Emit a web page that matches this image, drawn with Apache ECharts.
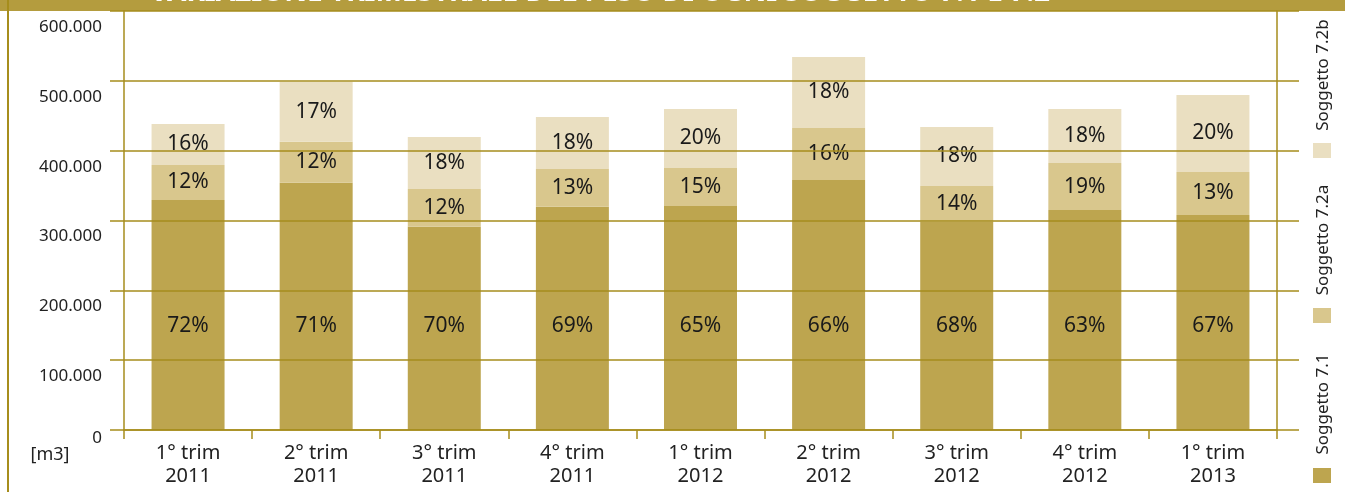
<!DOCTYPE html>
<html>
<head>
<meta charset="utf-8">
<script src="https://cdn.jsdelivr.net/npm/echarts@6/dist/echarts.min.js"></script>
<style>
  html, body { margin: 0; padding: 0; background: #ffffff; }
  #chart { width: 1345px; height: 492px; }
</style>
</head>
<body>
<div id="chart"></div>
<script>
const titleText = 'VARIAZIONE TRIMESTRALE DEL PESO DI OGNI SOGGETTO 7.1 E 7.2';
const unitLabel = '[m3]';
const categories = ['1° trim\n2011', '2° trim\n2011', '3° trim\n2011', '4° trim\n2011', '1° trim\n2012', '2° trim\n2012', '3° trim\n2012', '4° trim\n2012', '1° trim\n2013'];
const seriesNames = ['Soggetto 7.1', 'Soggetto 7.2a', 'Soggetto 7.2b'];
const values71 = [329400, 354100, 291100, 319800, 320800, 358000, 298300, 315000, 307900];
const values72a = [50100, 58800, 54000, 54000, 54400, 74500, 51100, 67300, 61600];
const values72b = [58700, 85900, 74500, 74400, 84500, 101600, 84500, 77400, 110200];
const pct71 = [72, 71, 70, 69, 65, 66, 68, 63, 67];
const pct72a = [12, 12, 12, 13, 15, 16, 14, 19, 13];
const pct72b = [16, 17, 18, 18, 20, 18, 18, 18, 20];
const yMin = 0, yMax = 600000, yInterval = 100000;

const colors = ['#bda54f', '#d9c78d', '#eadfc1'];
const lineColor = '#a68d1c';
const font = '"Noto Sans", "Open Sans", sans-serif';

function fmtNum(v) {
  return String(v).replace(/\B(?=(\d{3})+(?!\d))/g, '.');
}

const chart = echarts.init(document.getElementById('chart'), null, { renderer: 'canvas' });

const allValues = [values71, values72a, values72b];
const allPct = [pct71, pct72a, pct72b];

const series = seriesNames.map((name, i) => {
  const label = {
    show: true,
    position: 'inside',
    fontFamily: font,
    fontSize: 21,
    color: '#1a1a1a',
    formatter: p => allPct[i][p.dataIndex] + '%'
  };
  if (i === 0) {
    label.position = 'insideBottom';
    label.distance = 93;
  }
  return {
    name: name,
    type: 'bar',
    stack: 'total',
    barWidth: 73,
    data: allValues[i],
    itemStyle: { color: colors[i] },
    label: label
  };
});

// legend drawn as rotated text (vertical), names from seriesNames
const legendPos = [
  { textY: 404, rectY: 468 },
  { textY: 240, rectY: 308 },
  { textY: 75, rectY: 143 }
];
const legendGraphics = [];
seriesNames.forEach((name, i) => {
  legendGraphics.push({
    type: 'rect',
    shape: { x: 1313, y: legendPos[i].rectY, width: 18, height: 15 },
    style: { fill: colors[i] }
  });
  legendGraphics.push({
    type: 'text',
    x: 1323,
    y: legendPos[i].textY,
    rotation: Math.PI / 2,
    style: {
      text: name,
      fontFamily: font,
      fontSize: 17,
      fill: '#222',
      textAlign: 'center',
      textVerticalAlign: 'middle'
    }
  });
});

const option = {
  animation: false,
  backgroundColor: '#ffffff',
  grid: { left: 124, right: 68, top: 11, bottom: 62, containLabel: false, outerBoundsMode: 'none' },
  xAxis: {
    type: 'category',
    data: categories,
    z: 3,
    axisLine: { show: true, lineStyle: { color: lineColor, width: 1.5 } },
    axisTick: { show: true, length: 9, lineStyle: { color: lineColor, width: 1.5 } },
    axisLabel: {
      fontFamily: font,
      fontSize: 20,
      color: '#222',
      lineHeight: 23,
      margin: 12
    }
  },
  yAxis: [
    {
      type: 'value',
      min: yMin, max: yMax, interval: yInterval,
      position: 'left',
      z: 3,
      axisLine: { show: true, lineStyle: { color: lineColor, width: 1.5 } },
      axisTick: { show: true, length: 14, lineStyle: { color: lineColor, width: 1.5 } },
      splitLine: { show: true, lineStyle: { color: lineColor, width: 1.5 } },
      axisLabel: {
        fontFamily: font,
        fontSize: 17,
        color: '#222',
        margin: 22,
        lineHeight: 16,
        formatter: v => (v === 0 ? '\n0' : '\n\n' + fmtNum(v))
      }
    },
    {
      type: 'value',
      min: yMin, max: yMax, interval: yInterval,
      position: 'right',
      z: 3,
      axisLine: { show: true, lineStyle: { color: lineColor, width: 1.5 } },
      axisTick: { show: true, length: 22, lineStyle: { color: lineColor, width: 1.5 } },
      splitLine: { show: false },
      axisLabel: { show: false }
    }
  ],
  series: series,
  graphic: [
    {
      type: 'rect',
      z: -1,
      shape: { x: 0, y: 0, width: 1345, height: 11 },
      style: { fill: '#b49c3e' }
    },
    {
      type: 'text',
      x: 600,
      y: 7,
      style: {
        text: titleText,
        fontFamily: font,
        fontWeight: 'bold',
        fontSize: 28,
        fill: '#ffffff',
        textAlign: 'center',
        textVerticalAlign: 'bottom'
      }
    },
    {
      type: 'rect',
      shape: { x: 7, y: 0, width: 2, height: 492 },
      style: { fill: '#a68d1c' }
    },
    {
      type: 'text',
      x: 50,
      y: 455,
      style: {
        text: unitLabel,
        fontFamily: font,
        fontSize: 18,
        fill: '#222',
        textAlign: 'center',
        textVerticalAlign: 'middle'
      }
    }
  ].concat(legendGraphics)
};

chart.setOption(option);
</script>
</body>
</html>
